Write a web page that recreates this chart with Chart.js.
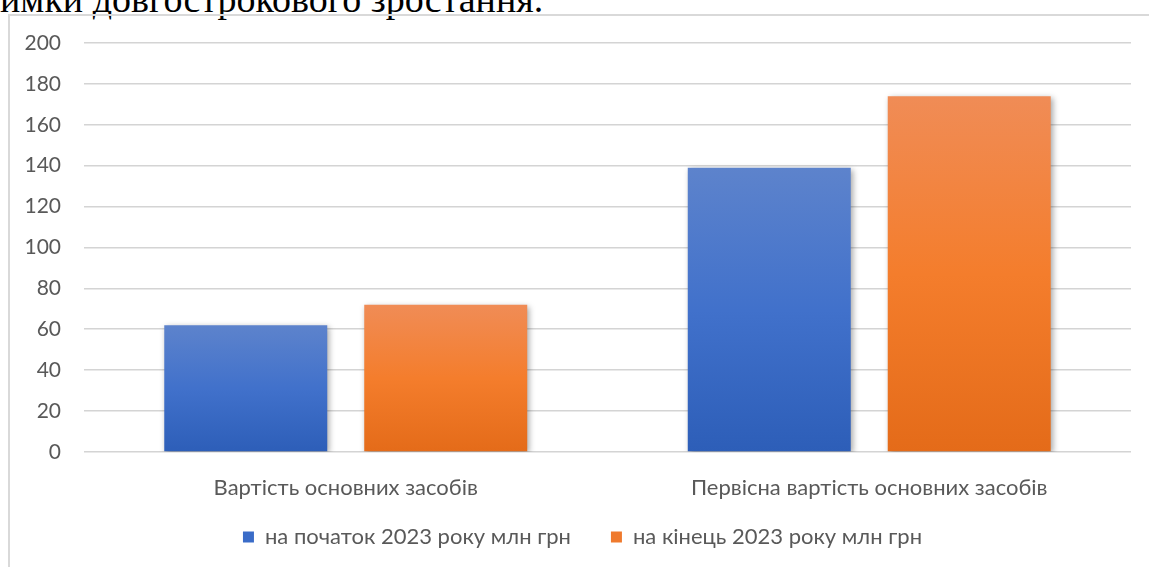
<!DOCTYPE html>
<html lang="uk">
<head>
<meta charset="utf-8"/>
<title>Вартість основних засобів</title>
<script src="https://cdn.jsdelivr.net/npm/chart.js"></script>
<style>
        html, body { margin: 0; padding: 0; background: #fff; overflow: hidden; }
        body { width: 1149px; height: 567px; position: relative; }
        .top-text { position: absolute; left: 0; top: -20px; font-family: "Liberation Serif", serif; font-size: 38px; line-height: 1; color: #000; white-space: nowrap; }
        .frame { position: absolute; left: 8px; top: 14px; width: 1141px; height: 553px; border-left: 2px solid #d9d9d9; border-top: 2px solid #d9d9d9; }
        .frame canvas { display: block; }
    </style>
</head>
<body>
<div class="top-text">имки довгострокового зростання.</div>
<div class="frame">
<canvas id="barChart" width="1139" height="551"></canvas>
</div>
<script>
        const categorias = ["Вартість основних засобів", "Первісна вартість основних засобів"];
        const serieNomes = ["на початок 2023 року млн грн", "на кінець 2023 року млн грн"];
        const inicio = [62, 139];
        const fim = [72, 174];
        const yTicks = [0, 20, 40, 60, 80, 100, 120, 140, 160, 180, 200];

        const fonte = '"Lato", "Open Sans", sans-serif';
        const cinza = '#595959';
        const coresLegenda = ['#3a6cc8', '#ef7a2d'];

        // gradiente vertical por barra (claro em cima, escuro em baixo)
        function gradiente(stops) {
            return function (context) {
                const chart = context.chart;
                const y = chart.scales && chart.scales.y;
                if (context.type !== 'data' || !y) return stops[1];
                const topo = y.getPixelForValue(context.raw);
                const base = y.getPixelForValue(0);
                if (!isFinite(topo) || !isFinite(base) || topo === base) return stops[1];
                const g = chart.ctx.createLinearGradient(0, topo, 0, base);
                g.addColorStop(0, stops[0]);
                g.addColorStop(0.5, stops[1]);
                g.addColorStop(1, stops[2]);
                return g;
            };
        }

        const sombra = {
            id: 'sombra',
            beforeInit(chart) {
                // legenda: altura fixa e desenho um pouco deslocado
                const leg = chart.legend;
                if (leg) {
                    const fitOrig = leg.fit;
                    leg.fit = function () {
                        fitOrig.call(this);
                        this.height = 65;
                    };
                    const drawOrig = leg.draw;
                    leg.draw = function () {
                        const ctx = this.ctx;
                        ctx.save();
                        ctx.translate(12, -16);
                        drawOrig.call(this);
                        ctx.restore();
                    };
                }
            },
            beforeDatasetsDraw(chart) {
                const ctx = chart.ctx;
                ctx.save();
                ctx.shadowColor = 'rgba(0,0,0,0.35)';
                ctx.shadowBlur = 6;
                ctx.shadowOffsetX = 2;
                ctx.shadowOffsetY = 2;
            },
            afterDatasetsDraw(chart) {
                chart.ctx.restore();
            }
        };

        new Chart(document.getElementById('barChart'), {
            type: 'bar',
            data: {
                labels: categorias,
                datasets: [{
                    label: serieNomes[0],
                    data: inicio,
                    backgroundColor: gradiente(['#5d83cc', '#4171cb', '#2d5eb8']),
                    borderWidth: 0
                }, {
                    label: serieNomes[1],
                    data: fim,
                    backgroundColor: gradiente(['#f08c56', '#f47d2c', '#e46b19']),
                    borderWidth: 0
                }]
            },
            options: {
                responsive: false,
                animation: false,
                categoryPercentage: 0.764,
                barPercentage: 0.815,
                layout: { padding: { top: 27, right: 18, left: 0, bottom: 0 } },
                plugins: {
                    tooltip: { enabled: false },
                    legend: {
                        position: 'bottom',
                        labels: {
                            color: cinza,
                            font: { family: fonte, size: 22 },
                            boxWidth: 11,
                            boxHeight: 11,
                            padding: 40,
                            generateLabels(chart) {
                                return chart.data.datasets.map((d, i) => ({
                                    text: d.label,
                                    fillStyle: coresLegenda[i],
                                    strokeStyle: coresLegenda[i],
                                    lineWidth: 0,
                                    fontColor: cinza,
                                    datasetIndex: i
                                }));
                            }
                        }
                    }
                },
                scales: {
                    x: {
                        afterFit(scale) { scale.height = 50; },
                        grid: { display: false },
                        border: { display: false },
                        ticks: { color: cinza, font: { family: fonte, size: 22 }, padding: 15 }
                    },
                    y: {
                        min: 0,
                        max: 200,
                        afterBuildTicks(scale) { scale.ticks = yTicks.map(v => ({ value: v })); },
                        afterFit(scale) {
                            scale.width = 74;
                            scale.paddingTop = 0;
                            scale.paddingBottom = 0;
                        },
                        grid: { color: '#d4d4d4', lineWidth: 1.6, drawTicks: false },
                        border: { display: false },
                        ticks: { color: cinza, font: { family: fonte, size: 21 }, padding: 23 }
                    }
                }
            },
            plugins: [sombra]
        });
    </script>
</body>
</html>
